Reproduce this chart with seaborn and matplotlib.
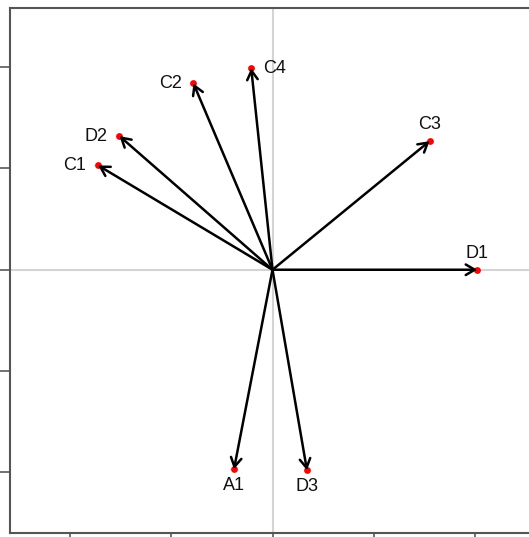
import seaborn as sns
import pandas as pd
from matplotlib import pyplot as plt

# Arrow tips (biplot loadings)
labels = ['D1', 'C3', 'C4', 'C2', 'D2', 'C1', 'A1', 'D3']
x_vals = [2.02, 1.55, -0.21, -0.78, -1.51, -1.72, -0.38, 0.34]
y_vals = [0.00, 1.27, 1.99, 1.84, 1.32, 1.03, -1.97, -1.98]
label_pos = ['top', 'top', 'right', 'left', 'left', 'left', 'bottom', 'bottom']
ticks = [-2, -1, 0, 1, 2]

sns.set_style('white')
plt.rcParams['font.family'] = ['Liberation Sans', 'DejaVu Sans']

df = pd.DataFrame({'x': x_vals, 'y': y_vals, 'label': labels, 'pos': label_pos})

fig = plt.figure(figsize=(5.29, 5.37), dpi=100)
# axes run past the right edge of the figure, like the cropped reference
ax = fig.add_axes([10 / 529, 4 / 537, 525 / 529, 525.5 / 537])

ax.axhline(0, color='#d4d4d4', lw=1.5, zorder=0)
ax.axvline(0, color='#d4d4d4', lw=1.5, zorder=0)

sns.scatterplot(data=df, x='x', y='y', color='red', s=24, linewidth=0, ax=ax, zorder=2)

for _, r in df.iterrows():
    ax.annotate('', xy=(r['x'], r['y']), xytext=(0, 0),
                arrowprops=dict(arrowstyle='->,head_length=0.65,head_width=0.38',
                                lw=1.8, color='black', shrinkA=0, shrinkB=0,
                                mutation_scale=10),
                zorder=3)

offsets = {'top': (0, 12, 'center', 'center'),
           'bottom': (0, -12, 'center', 'center'),
           'left': (-8.5, 0, 'right', 'center'),
           'right': (8.5, 0, 'left', 'center')}
for _, r in df.iterrows():
    dx, dy, ha, va = offsets[r['pos']]
    ax.annotate(r['label'], xy=(r['x'], r['y']), xytext=(dx, dy),
                textcoords='offset points', ha=ha, va=va,
                fontsize=13, color='#111111')

ax.set_xlim(-2.59, 2.59)
ax.set_ylim(-2.6, 2.59)
ax.set_xticks(ticks)
ax.set_yticks(ticks)
ax.set_xticklabels([])
ax.set_yticklabels([])
ax.set_xlabel('')
ax.set_ylabel('')
ax.tick_params(axis='both', length=8, width=1.3, color='#666666',
               left=True, bottom=True, direction='out')
for side in ax.spines.values():
    side.set_color('#555555')
    side.set_linewidth(1.5)

plt.savefig('out.png', dpi=100)
